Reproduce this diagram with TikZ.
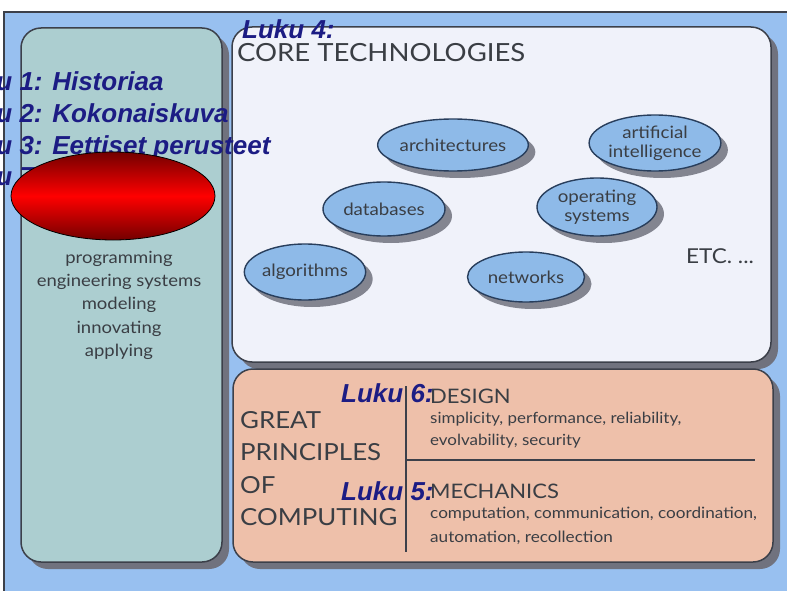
\documentclass[tikz,border=0pt]{standalone}
\usepackage{fontspec}
\setmainfont[FakeStretch=1.1]{Lato}
\newfontfamily\lukufont{Liberation Sans}
\usetikzlibrary{shapes.geometric,shadows}

\definecolor{frameblue}{RGB}{152,192,240}
\definecolor{edgegray}{RGB}{60,64,74}
\definecolor{shadowgray}{RGB}{112,114,126}
\definecolor{sidegreen}{RGB}{172,206,208}
\definecolor{corewhite}{RGB}{240,242,250}
\definecolor{salmon}{RGB}{238,192,170}
\definecolor{techblue}{RGB}{142,186,232}
\definecolor{techedge}{RGB}{40,62,92}
\definecolor{textgray}{RGB}{58,62,68}
\definecolor{lukublue}{RGB}{28,28,132}
\definecolor{deepred}{RGB}{115,0,0}

\tikzset{
  panel/.style={draw=edgegray, line width=1.5pt, rounded corners=20pt,
    drop shadow={shadow xshift=7pt, shadow yshift=-7pt, fill=shadowgray, opacity=1}},
  tech/.style={ellipse, draw=techedge, line width=1.4pt, fill=techblue,
    inner sep=0pt, align=center, text=textgray,
    font=\fontsize{17}{19}\selectfont,
    drop shadow={shadow xshift=7pt, shadow yshift=-7pt, fill=shadowgray, opacity=.85}},
  gray text/.style={text=textgray, inner sep=0pt},
  luku/.style={text=lukublue, inner sep=0pt, anchor=base west,
    font=\lukufont\bfseries\itshape\fontsize{26}{28}\selectfont},
}

\begin{document}
\begin{tikzpicture}[x=1pt,y=-1pt]
\clip (0,0) rectangle (787,591);
\fill[white] (0,0) rectangle (787,591);
% outer frame
\draw[fill=frameblue, draw=edgegray, line width=1.2pt] (4,12) rectangle (800,600);

% the three panels
\draw[panel, fill=sidegreen] (21,28) rectangle (222,562);
\draw[panel, fill=corewhite] (232,27) rectangle (771,362);
\draw[panel, fill=salmon] (233,369) rectangle (773,562);

% left panel
\node[gray text, anchor=base, font=\fontsize{16.8}{18}\selectfont] (prog) at (119,263) {programming};
\node[gray text, anchor=base, font=\fontsize{16.8}{18}\selectfont] (eng) at (119,286) {engineering systems};
\node[gray text, anchor=base, font=\fontsize{16.8}{18}\selectfont] (model) at (119,309) {modeling};
\node[gray text, anchor=base, font=\fontsize{16.8}{18}\selectfont] (innov) at (119,333) {innovating};
\node[gray text, anchor=base, font=\fontsize{16.8}{18}\selectfont] (apply) at (119,356) {applying};

% core technologies
\node[gray text, anchor=base west, font=\fontsize{25}{26}\selectfont] (core) at (237,62) {CORE TECHNOLOGIES};
\node[tech, minimum width=118, minimum height=52] (arch) at (453,145) {architectures};
\node[tech, minimum width=124, minimum height=56] (ai) at (655,143) {artificial\\intelligence};
\node[tech, minimum width=122, minimum height=54] (db) at (384,209) {databases};
\node[tech, minimum width=120, minimum height=58] (os) at (597,207) {operating\\systems};
\node[tech, minimum width=120, minimum height=56] (algo) at (305,272) {algorithms};
\node[tech, minimum width=117, minimum height=50] (net) at (526,277) {networks};
\node[gray text, anchor=base west, font=\fontsize{20.5}{22}\selectfont] (etc) at (686,263) {ETC. ...};

% great principles
\node[gray text, anchor=base west, font=\fontsize{23.5}{24}\selectfont] (great) at (240,428) {GREAT};
\node[gray text, anchor=base west, font=\fontsize{23.5}{24}\selectfont] (princ) at (240,460) {PRINCIPLES};
\node[gray text, anchor=base west, font=\fontsize{23.5}{24}\selectfont] (of) at (240,493) {OF};
\node[gray text, anchor=base west, font=\fontsize{23.5}{24}\selectfont] (comp) at (240,525) {COMPUTING};
\draw[edgegray, line width=2pt] (406,386) -- (406,552);
\draw[edgegray, line width=2pt] (406,460) -- (755,460);
\node[gray text, anchor=base west, font=\fontsize{20}{22}\selectfont] (design) at (430,403) {DESIGN};
\node[gray text, anchor=base west, font=\fontsize{15.4}{16}\selectfont] (des1) at (430,423) {simplicity, performance, reliability,};
\node[gray text, anchor=base west, font=\fontsize{15.4}{16}\selectfont] (des2) at (430,445) {evolvability, security};
\node[gray text, anchor=base west, font=\fontsize{20}{22}\selectfont] (mech) at (430,498) {MECHANICS};
\node[gray text, anchor=base west, font=\fontsize{15.6}{16}\selectfont] (mech1) at (430,518) {computation, communication, coordination,};
\node[gray text, anchor=base west, font=\fontsize{15.6}{16}\selectfont] (mech2) at (430,542) {automation, recollection};

% chapter labels
\node[luku] (l1) at (-50,91) {Luku 1: Historiaa};
\node[luku] (l2) at (-50,123) {Luku 2: Kokonaiskuva};
\node[luku] (l3) at (-50,154) {Luku 3: Eettiset perusteet};
\node[luku] (l7) at (-50,185) {Luku 7:};
\node[luku] (l4) at (242,39) {Luku 4:};
\node[luku] (l6) at (341,402) {Luku 6:};
\node[luku] (l5) at (341,500) {Luku 5:};

% red cover
\node[ellipse, draw=black, line width=0.8pt, minimum width=204, minimum height=88,
  top color=deepred, bottom color=deepred, middle color=red] (cover) at (113,196) {};
\end{tikzpicture}
\end{document}
